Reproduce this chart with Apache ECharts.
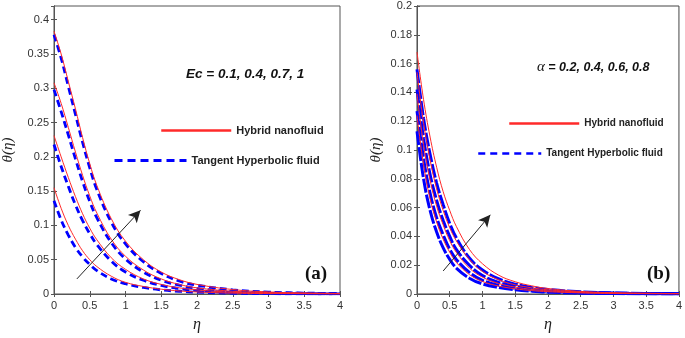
<!DOCTYPE html>
<html>
<head>
<meta charset="utf-8">
<script src="https://cdn.jsdelivr.net/npm/echarts@6/dist/echarts.min.js"></script>
<style>
  html, body { margin: 0; padding: 0; background: #fff; }
  #chart { width: 685px; height: 338px; }
</style>
</head>
<body>
<div id="chart"></div>
<script>
// eta grid shared by every curve
const eta = [0, 0.1, 0.2, 0.3, 0.4, 0.5, 0.6, 0.8, 1.0, 1.25, 1.5, 1.75, 2, 2.5, 3, 3.5, 4];

// panel (a): Ec = 0.1, 0.4, 0.7, 1
const redA1 = [0.155, 0.125, 0.100, 0.080, 0.063, 0.050, 0.040, 0.026, 0.017, 0.011, 0.007, 0.0045, 0.003, 0.0013, 0.0006, 0.0003, 0.0001];
const redA2 = [0.231, 0.200, 0.170, 0.142, 0.117, 0.096, 0.079, 0.053, 0.036, 0.022, 0.014, 0.009, 0.006, 0.0025, 0.0012, 0.0006, 0.0003];
const redA3 = [0.308, 0.278, 0.243, 0.207, 0.173, 0.143, 0.118, 0.080, 0.055, 0.035, 0.022, 0.014, 0.009, 0.004, 0.002, 0.001, 0.0005];
const redA4 = [0.383, 0.350, 0.310, 0.270, 0.228, 0.190, 0.158, 0.110, 0.077, 0.050, 0.032, 0.021, 0.014, 0.0065, 0.003, 0.0015, 0.0008];
const blueA1 = [0.136, 0.108, 0.086, 0.068, 0.054, 0.043, 0.034, 0.022, 0.015, 0.0095, 0.006, 0.004, 0.0026, 0.0011, 0.0005, 0.0002, 0.0001];
const blueA2 = [0.218, 0.186, 0.157, 0.130, 0.107, 0.088, 0.072, 0.048, 0.032, 0.020, 0.0125, 0.008, 0.005, 0.0022, 0.001, 0.0005, 0.0002];
const blueA3 = [0.298, 0.266, 0.232, 0.197, 0.164, 0.135, 0.111, 0.075, 0.051, 0.032, 0.020, 0.013, 0.008, 0.0036, 0.0018, 0.0009, 0.0004];
const blueA4 = [0.378, 0.344, 0.303, 0.262, 0.221, 0.184, 0.152, 0.105, 0.073, 0.047, 0.030, 0.019, 0.013, 0.006, 0.0028, 0.0014, 0.0007];

// panel (b): alpha = 0.2, 0.4, 0.6, 0.8
const redB1 = [0.124, 0.090, 0.066, 0.050, 0.038, 0.029, 0.022, 0.0135, 0.0087, 0.0055, 0.0036, 0.0024, 0.0016, 0.0008, 0.0004, 0.0002, 0.0001];
const redB2 = [0.139, 0.104, 0.079, 0.061, 0.048, 0.037, 0.029, 0.018, 0.0117, 0.0073, 0.0048, 0.0032, 0.0022, 0.001, 0.0005, 0.0003, 0.0002];
const redB3 = [0.154, 0.119, 0.093, 0.073, 0.058, 0.046, 0.037, 0.024, 0.0157, 0.0098, 0.0064, 0.0043, 0.0029, 0.0014, 0.0007, 0.0004, 0.0002];
const redB4 = [0.168, 0.135, 0.109, 0.088, 0.071, 0.058, 0.047, 0.031, 0.021, 0.013, 0.0085, 0.0057, 0.0038, 0.0018, 0.0009, 0.0005, 0.0003];
const blueB1 = [0.113, 0.080, 0.058, 0.043, 0.032, 0.024, 0.018, 0.011, 0.007, 0.0045, 0.003, 0.002, 0.0013, 0.0006, 0.0003, 0.00015, 0.0001];
const blueB2 = [0.127, 0.094, 0.070, 0.053, 0.041, 0.031, 0.024, 0.015, 0.0095, 0.006, 0.004, 0.0027, 0.0018, 0.0009, 0.00045, 0.0002, 0.0001];
const blueB3 = [0.142, 0.108, 0.083, 0.065, 0.051, 0.040, 0.031, 0.020, 0.0128, 0.008, 0.0052, 0.0035, 0.0024, 0.0011, 0.0006, 0.0003, 0.0002];
const blueB4 = [0.156, 0.122, 0.097, 0.077, 0.062, 0.049, 0.039, 0.025, 0.0167, 0.0105, 0.0068, 0.0046, 0.0031, 0.0015, 0.0007, 0.0004, 0.0002];

// arrows (data coords: [eta, theta])
const arrowA = [[0.32, 0.022], [1.21, 0.122]];
const arrowB = [[0.40, 0.016], [1.12, 0.055]];

const RED = 'Hybrid nanofluid';
const BLUE = 'Tangent Hyperbolic fluid';

const pair = arr => eta.map((x, i) => [x, arr[i]]);

const myChart = echarts.init(document.getElementById('chart'));

const labelFont = { color: '#333', fontSize: 11, fontFamily: 'Liberation Sans' };
const axisLine = { lineStyle: { color: '#555', width: 1 } };

function xAx(grid, top) {
  return {
    type: 'value', gridIndex: grid, min: 0, max: 4, interval: 0.5,
    position: top ? 'top' : 'bottom',
    name: top ? '' : 'η', nameLocation: 'middle', nameGap: 23,
    nameTextStyle: { fontFamily: 'Liberation Serif', fontStyle: 'italic', fontSize: 16, color: '#222' },
    axisLine: axisLine,
    axisTick: { inside: true, length: 3, lineStyle: { color: '#555' } },
    axisLabel: Object.assign({ show: !top, margin: 6 }, labelFont),
    splitLine: { show: false }
  };
}

function yAx(grid, right, max, interval, nameGap) {
  return {
    type: 'value', gridIndex: grid, min: 0, max: max, interval: interval,
    position: right ? 'right' : 'left',
    name: right ? '' : 'θ(η)', nameLocation: 'middle', nameGap: nameGap,
    nameTextStyle: { fontFamily: 'Liberation Serif', fontStyle: 'italic', fontSize: 15, color: '#222' },
    axisLine: axisLine,
    axisTick: { inside: true, length: 3, lineStyle: { color: '#555' } },
    axisLabel: Object.assign({ show: !right, margin: 5, showMaxLabel: max === 0.2 }, labelFont),
    splitLine: { show: false }
  };
}

function redLine(arr, g) {
  return {
    name: RED, type: 'line', xAxisIndex: g * 2, yAxisIndex: g * 2,
    data: pair(arr), symbol: 'none', smooth: 0.4,
    lineStyle: { color: '#ff2a2a', width: 1 }, itemStyle: { color: '#ff2a2a' }, z: 3
  };
}

function blueLine(arr, g) {
  return {
    name: BLUE, type: 'line', xAxisIndex: g * 2, yAxisIndex: g * 2,
    data: pair(arr), symbol: 'none', smooth: 0.4,
    lineStyle: { color: '#0000ff', width: g === 0 ? 2.8 : 3, type: g === 0 ? [7, 4] : [14, 2] },
    itemStyle: { color: '#0000ff' }, z: 2
  };
}

function arrowLine(coords, g) {
  return {
    type: 'line', xAxisIndex: g * 2, yAxisIndex: g * 2, data: [], silent: true,
    markLine: {
      silent: true, symbol: ['none', 'arrow'], symbolSize: [9, 12],
      label: { show: false },
      lineStyle: { color: '#222', width: 1, type: 'solid' },
      data: [[{ coord: coords[0] }, { coord: coords[1] }]]
    }
  };
}

const legendText = size => ({ fontFamily: 'Liberation Sans', fontWeight: 'bold', fontSize: size, color: '#222' });
const legendBase = { padding: 0, itemHeight: 14, selectedMode: false, itemStyle: { opacity: 0 } };

const options = {
  animation: false,
  grid: [
    { left: 50, top: 6, width: 290, height: 289, show: true, borderColor: '#555', borderWidth: 1 },
    { left: 417, top: 6, width: 263, height: 289, show: true, borderColor: '#444', borderWidth: 1 }
  ],
  xAxis: [xAx(0, false), xAx(0, true), xAx(1, false), xAx(1, true)],
  yAxis: [yAx(0, false, 0.42, 0.05, 38), yAx(0, true, 0.42, 0.05, 0), yAx(1, false, 0.2, 0.02, 33), yAx(1, true, 0.2, 0.02, 0)],
  legend: [
    Object.assign({ data: [RED], left: 160, top: 125, itemWidth: 70, textStyle: legendText(11), lineStyle: { width: 2.5 } }, legendBase),
    Object.assign({ data: [BLUE], left: 113, top: 155, itemWidth: 72, textStyle: legendText(11), lineStyle: { width: 3, type: [8, 5] } }, legendBase),
    Object.assign({ data: [RED], left: 508, top: 118, itemWidth: 70, textStyle: legendText(10), lineStyle: { width: 2.5 } }, legendBase),
    Object.assign({ data: [BLUE], left: 477, top: 148, itemWidth: 63, textStyle: legendText(10), lineStyle: { width: 2.5, type: [7, 5] } }, legendBase)
  ],
  graphic: [
    { type: 'text', left: 186, top: 67, style: { text: 'Ec = 0.1, 0.4, 0.7, 1', font: 'italic bold 13.5px "Liberation Sans"', fill: '#111' } },
    {
      type: 'text', left: 537, top: 60,
      style: {
        text: '{a|α} = 0.2, 0.4, 0.6, 0.8', font: 'italic bold 12.5px "Liberation Sans"', fill: '#111',
        rich: { a: { fontFamily: 'Liberation Serif', fontStyle: 'italic', fontWeight: 'normal', fontSize: 15 } }
      }
    },
    { type: 'text', left: 305, top: 265, style: { text: '(a)', font: 'bold 19px "Liberation Serif"', fill: '#111' } },
    { type: 'text', left: 647, top: 265, style: { text: '(b)', font: 'bold 19px "Liberation Serif"', fill: '#111' } }
  ],
  series: [
    blueLine(blueA1, 0), blueLine(blueA2, 0), blueLine(blueA3, 0), blueLine(blueA4, 0),
    redLine(redA1, 0), redLine(redA2, 0), redLine(redA3, 0), redLine(redA4, 0),
    blueLine(blueB1, 1), blueLine(blueB2, 1), blueLine(blueB3, 1), blueLine(blueB4, 1),
    redLine(redB1, 1), redLine(redB2, 1), redLine(redB3, 1), redLine(redB4, 1),
    arrowLine(arrowA, 0), arrowLine(arrowB, 1)
  ]
};
myChart.setOption(options, true);
window.addEventListener('resize', function () {
  myChart.resize();
});
</script>
</body>
</html>
